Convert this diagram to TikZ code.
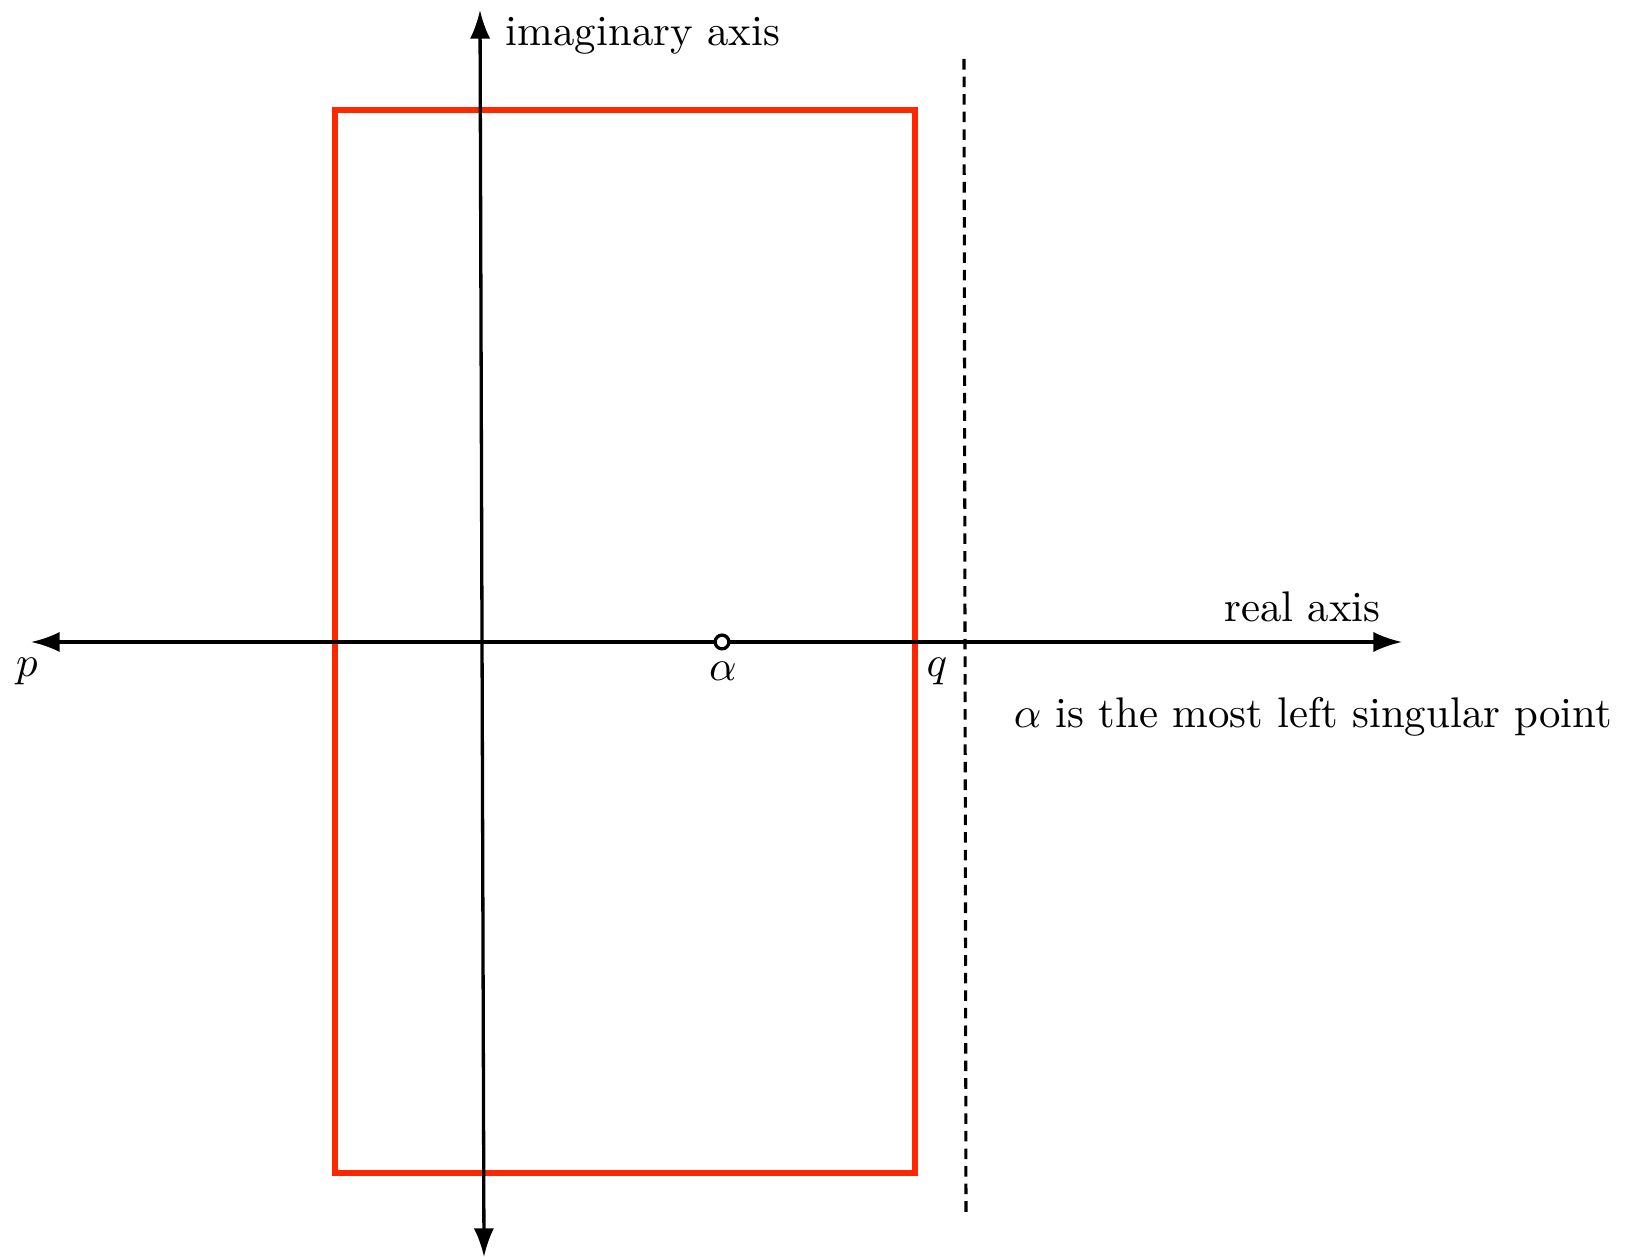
\documentclass[tikz,border=0pt]{standalone}
\definecolor{boxred}{RGB}{255, 38, 0}
\usepackage{tikz}
\usetikzlibrary{arrows.meta, positioning, calc}
\usepackage{amsmath, amssymb}

\begin{document}
\begin{tikzpicture}[
    axis/.style={line width=0.75pt, {Latex[length=6.5pt, width=4.6pt]}-{Latex[length=6.5pt, width=4.6pt]}},
    contour/.style={draw=boxred, line width=1.3pt},
    bound/.style={line width=0.7pt, dash pattern=on 2.4pt off 1.6pt},
    pole/.style={circle, draw, fill=white, line width=0.75pt, inner sep=0pt, minimum size=0.11cm},
    lbl/.style={scale=0.975}
  ]
  \useasboundingbox (0, 0) rectangle (13.008, 10.056);

  % Axes ends
  \coordinate (p) at (0.248, 4.92);
  \coordinate (realend) at (11.216, 4.92);
  \coordinate (imtop) at (3.84, 9.976);
  \coordinate (imbot) at (3.872, 0.0);

  % Red contour
  \draw[contour] (2.68, 0.672) rectangle (7.32, 9.176);

  % Real axis and imaginary axis
  \draw[axis] (p) -- (realend);
  \draw[axis] (imbot) -- (imtop);

  % Dashed line through q
  \coordinate (dashtop) at (7.712, 9.584);
  \coordinate (dashbot) at (7.728, 0.312);
  \draw[bound] (dashtop) -- (dashbot);

  % Singular point
  \node[pole] (alpha) at (5.776, 4.92) {};

  % Labels
  \node[lbl] (plabel) at (0.216, 4.688) {$p$};
  \node[lbl] (alabel) at (5.784, 4.688) {$\alpha$};
  \node[lbl] (qlabel) at (7.496, 4.688) {$q$};
  \node[lbl] (reallabel) at (10.42, 5.2) {real axis};
  \node[lbl, anchor=west, inner sep=0pt] (imlabel) at (4.04, 9.77) {imaginary axis};
  \node[lbl, anchor=west, inner sep=0pt] (note) at (8.104, 4.32) {$\alpha$ is the most left singular point};
\end{tikzpicture}
\end{document}
